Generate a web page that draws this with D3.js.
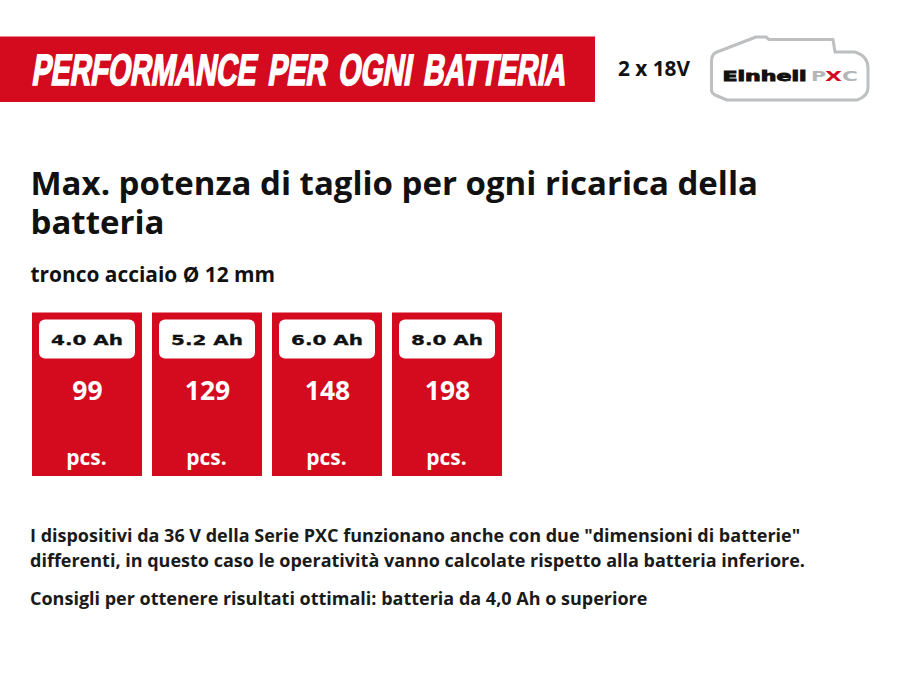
<!DOCTYPE html>
<html>
<head>
<meta charset="utf-8">
<script src="https://cdn.jsdelivr.net/npm/d3@7"></script>
<style>
  html, body { margin: 0; padding: 0; background: #fff; }
  svg { display: block; }
  text { font-family: "Open Sans", sans-serif; }
</style>
</head>
<body>
<svg id="chart" width="900" height="675"></svg>
<script>
const capacities = ["4.0 Ah", "5.2 Ah", "6.0 Ah", "8.0 Ah"];
const pieces = [99, 129, 148, 198];
const unitLabel = "pcs.";
const bannerText = "PERFORMANCE PER OGNI BATTERIA";
const voltageText = "2 x 18V";
const titleLines = ["Max. potenza di taglio per ogni ricarica della", "batteria"];
const subtitle = "tronco acciaio Ø 12 mm";
const noteLines = [
    'I dispositivi da 36 V della Serie PXC funzionano anche con due "dimensioni di batterie"',
    "differenti, in questo caso le operatività vanno calcolate rispetto alla batteria inferiore."
];
const adviceLine = "Consigli per ottenere risultati ottimali: batteria da 4,0 Ah o superiore";

const red = "#d40b1e";
const svg = d3.select("#chart");

// Banner
svg.append("rect")
    .attr("x", 0).attr("y", 36.5)
    .attr("width", 595).attr("height", 65.5)
    .attr("fill", red);

svg.append("text")
    .attr("transform", "translate(31, 85) skewX(-9)")
    .attr("textLength", 534)
    .attr("lengthAdjust", "spacingAndGlyphs")
    .style("font-family", '"Liberation Sans Narrow", "Liberation Sans", sans-serif')
    .style("font-weight", 700)
    .style("font-size", "44px")
    .style("word-spacing", "6px")
    .attr("fill", "#fff")
    .attr("stroke", "#fff")
    .attr("stroke-width", 1.7)
    .text(bannerText);

svg.append("text")
    .attr("x", 654).attr("y", 76)
    .attr("text-anchor", "middle")
    .style("font-weight", 700)
    .style("font-size", "20.8px")
    .attr("fill", "#111")
    .text(voltageText);

// Battery logo
svg.append("path")
    .attr("d", "M711.5 61 Q711.5 54 717 52 L756 37 L766 37 L769 39.5 L833 39.5 L835 52 L855 52 Q868 56 868 68 L868 88 Q868 96 857 100 L727 100 L715 95 Q711.5 93 711.5 90 Z")
    .attr("fill", "#fff")
    .attr("stroke", "#bdbfc1")
    .attr("stroke-width", 3)
    .attr("stroke-linejoin", "round");

const logo = svg.append("text")
    .attr("y", 80.5)
    .style("font-family", '"DejaVu Sans", sans-serif')
    .style("font-weight", 700)
    .style("font-size", "14px");
logo.append("tspan").attr("x", 722.5).attr("textLength", 84).attr("lengthAdjust", "spacingAndGlyphs")
    .attr("fill", "#111").attr("stroke", "#111").attr("stroke-width", 0.9).text("Einhell");
logo.append("tspan").attr("x", 811).attr("fill", "#b4b6b8").attr("textLength", 15).attr("lengthAdjust", "spacingAndGlyphs").text("P");
logo.append("tspan").attr("x", 825).attr("fill", red).attr("textLength", 17).attr("lengthAdjust", "spacingAndGlyphs").text("X");
logo.append("tspan").attr("x", 842).attr("fill", "#b4b6b8").attr("textLength", 16).attr("lengthAdjust", "spacingAndGlyphs").text("C");

// Title
svg.selectAll("text.title")
    .data(titleLines)
    .enter()
    .append("text")
    .attr("class", "title")
    .attr("x", 30.5)
    .attr("y", (d, i) => 195 + i * 39)
    .style("font-weight", 700)
    .style("font-size", "33px")
    .attr("fill", "#111")
    .text(d => d);

svg.append("text")
    .attr("x", 30.5).attr("y", 282)
    .style("font-weight", 700)
    .style("font-size", "20.9px")
    .attr("fill", "#111")
    .text(subtitle);

// Cards
const xScale = d3.scaleBand()
    .domain(capacities)
    .range([32, 502])
    .paddingInner(10 / 120);

const cards = svg.selectAll("g.card")
    .data(capacities)
    .enter()
    .append("g")
    .attr("class", "card")
    .attr("transform", d => `translate(${xScale(d)}, 0)`);

cards.append("rect")
    .attr("y", 312.5)
    .attr("width", xScale.bandwidth())
    .attr("height", 163.5)
    .attr("fill", red);

cards.append("rect")
    .attr("x", 7).attr("y", 319.5)
    .attr("width", 96).attr("height", 39)
    .attr("rx", 6)
    .attr("fill", "#fff");

cards.append("text")
    .attr("x", xScale.bandwidth() / 2).attr("y", 345)
    .attr("text-anchor", "middle")
    .attr("textLength", 72)
    .attr("lengthAdjust", "spacingAndGlyphs")
    .style("font-family", '"DejaVu Sans", sans-serif')
    .style("font-weight", 700)
    .style("font-size", "14.5px")
    .attr("fill", "#111")
    .attr("stroke", "#111")
    .attr("stroke-width", 0.3)
    .text(d => d);

cards.append("text")
    .attr("x", xScale.bandwidth() / 2 + 0.5).attr("y", 400)
    .attr("text-anchor", "middle")
    .style("font-weight", 700)
    .style("font-size", "26.5px")
    .attr("fill", "#fff")
    .text((d, i) => pieces[i]);

cards.append("text")
    .attr("x", xScale.bandwidth() / 2 - 0.5).attr("y", 465)
    .attr("text-anchor", "middle")
    .style("font-weight", 700)
    .style("font-size", "21px")
    .attr("fill", "#fff")
    .text(unitLabel);

// Notes
svg.selectAll("text.note")
    .data(noteLines)
    .enter()
    .append("text")
    .attr("class", "note")
    .attr("x", 30).attr("y", (d, i) => 542 + i * 25)
    .style("font-weight", 700)
    .style("font-size", "18px")
    .attr("fill", "#1a1a1a")
    .text(d => d);

svg.append("text")
    .attr("x", 30).attr("y", 605)
    .style("font-weight", 700)
    .style("font-size", "18px")
    .attr("fill", "#1a1a1a")
    .text(adviceLine);
</script>
</body>
</html>
